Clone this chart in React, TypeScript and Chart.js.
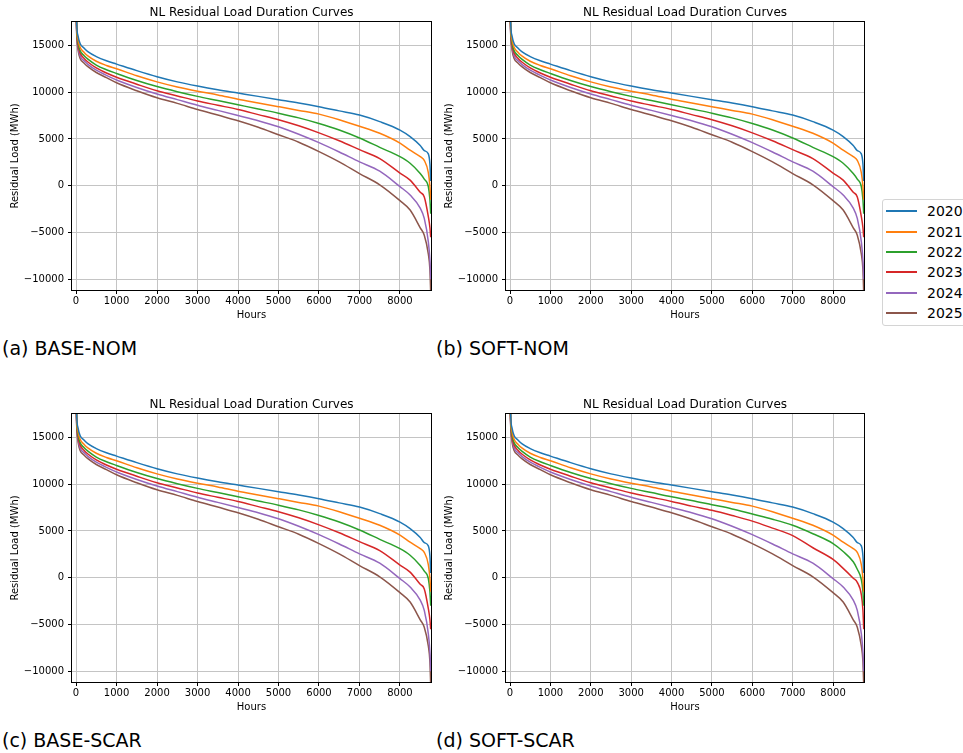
import React, { useEffect, useRef } from 'react';
import { Chart, registerables } from 'chart.js';

Chart.register(...registerables);

// ---------- data ----------
const HOURS = [0, 20, 50, 100, 200, 300, 500, 750, 1000, 1500, 2000, 2500, 3000, 3500, 4000, 4500, 5000, 5500, 6000, 6500, 7000, 7500, 8000, 8250, 8500, 8600, 8700, 8740, 8759];

const YEARS = ['2020', '2021', '2022', '2023', '2024', '2025'];
const COLORS = ['#1f77b4', '#ff7f0e', '#2ca02c', '#d62728', '#9467bd', '#8c564b'];

const Y2020 = [20000, 17000, 16000, 15200, 14700, 14300, 13800, 13350, 13000, 12300, 11650, 11100, 10650, 10250, 9900, 9550, 9200, 8850, 8450, 8000, 7550, 6850, 5950, 5250, 4300, 3750, 3400, 2300, 500];
const Y2021 = [20000, 16700, 15600, 14800, 14250, 13850, 13300, 12850, 12500, 11750, 11100, 10550, 10100, 9700, 9250, 8850, 8450, 8050, 7650, 7050, 6350, 5600, 4550, 3800, 3100, 2700, 1400, -100, -1500];
const Y2022 = [19500, 16400, 15300, 14450, 13900, 13500, 12900, 12400, 12000, 11250, 10600, 10050, 9550, 9100, 8650, 8200, 7750, 7250, 6650, 5950, 5100, 4100, 3100, 2400, 1300, 700, -100, -1500, -3000];
const Y2023 = [19000, 16200, 15000, 14200, 13600, 13200, 12600, 12050, 11600, 10850, 10150, 9600, 9050, 8600, 8150, 7600, 7050, 6400, 5650, 4800, 3850, 2900, 1350, 600, -700, -1200, -3300, -4500, -5500];
const Y2024 = [19000, 16000, 14800, 13900, 13350, 12950, 12350, 11800, 11300, 10500, 9800, 9200, 8600, 8050, 7500, 6950, 6300, 5500, 4600, 3600, 2550, 1550, -100, -1000, -2400, -3500, -6000, -8000, -10000];
const Y2025 = [18500, 15800, 14500, 13600, 13100, 12700, 12100, 11550, 11000, 10150, 9400, 8800, 8150, 7550, 6950, 6250, 5450, 4650, 3650, 2550, 1300, 100, -1600, -2600, -4500, -5300, -7300, -9000, -11500];

// SOFT-SCAR differs for 2022 and 2023
const Y2022_SOFT_SCAR = [19500, 16400, 15300, 14450, 13900, 13500, 12900, 12400, 12000, 11250, 10600, 10050, 9550, 9100, 8650, 8250, 7800, 7350, 6800, 6250, 5600, 4700, 3650, 2800, 1700, 900, -200, -1500, -3000];
const Y2023_SOFT_SCAR = [19000, 16200, 15000, 14200, 13600, 13200, 12600, 12050, 11600, 10850, 10150, 9600, 9050, 8600, 8150, 7650, 7200, 6650, 6050, 5300, 4500, 3200, 1950, 1000, -50, -500, -1800, -3500, -5500];

const CAPTIONS = ['(a) BASE-NOM', '(b) SOFT-NOM', '(c) BASE-SCAR', '(d) SOFT-SCAR'];
const SERIES_BY_PANEL = [
  [Y2020, Y2021, Y2022, Y2023, Y2024, Y2025],
  [Y2020, Y2021, Y2022, Y2023, Y2024, Y2025],
  [Y2020, Y2021, Y2022, Y2023, Y2024, Y2025],
  [Y2020, Y2021, Y2022_SOFT_SCAR, Y2023_SOFT_SCAR, Y2024, Y2025],
];

const TITLE = 'NL Residual Load Duration Curves';
const X_LABEL = 'Hours';
const Y_LABEL = 'Residual Load (MWh)';
const X_TICKS = [0, 1000, 2000, 3000, 4000, 5000, 6000, 7000, 8000];
const Y_TICKS = [-10000, -5000, 0, 5000, 10000, 15000];
const X_MIN = -100;
const X_MAX = 8766;
const Y_MIN = -11150;
const Y_MAX = 17500;

const FONT = 'DejaVu Sans';

// ---------- layout ----------
const PANEL_POS = [
  { left: 0, top: 0, padRight: 9 },
  { left: 434, top: 0, padRight: 10 },
  { left: 0, top: 392, padRight: 9 },
  { left: 434, top: 392, padRight: 10 },
];
const CAPTION_POS = [
  { left: 2, top: 338.6 },
  { left: 436, top: 338.6 },
  { left: 2, top: 730.6 },
  { left: 436, top: 730.6 },
];

const framePlugin = {
  id: 'frameAndTitle',
  afterDraw(chart: any) {
    const { ctx, chartArea } = chart;
    const l = Math.round(chartArea.left);
    const t = Math.round(chartArea.top);
    const r = Math.round(chartArea.right);
    const b = Math.round(chartArea.bottom);
    ctx.save();
    ctx.strokeStyle = '#000';
    ctx.lineWidth = 1;
    ctx.strokeRect(l - 0.5, t - 0.5, r - l + 1, b - t + 1);
    ctx.fillStyle = '#000';
    ctx.font = `12px "${FONT}"`;
    ctx.textAlign = 'center';
    ctx.textBaseline = 'alphabetic';
    ctx.fillText(TITLE, (chartArea.left + chartArea.right) / 2, chartArea.top - 6);
    ctx.restore();
  },
};

const fmt = (v: number) => (v < 0 ? '\u2212' + Math.abs(v) : String(v));

function Panel({ series, pos }: { series: number[][]; pos: { left: number; top: number; padRight: number } }) {
  const ref = useRef<HTMLCanvasElement | null>(null);
  useEffect(() => {
    if (!ref.current) return;
    const chart = new Chart(ref.current, {
      type: 'line',
      data: {
        datasets: YEARS.map((yr, i) => ({
          label: yr,
          data: HOURS.map((h, k) => ({ x: h, y: series[i][k] })),
          borderColor: COLORS[i],
          backgroundColor: COLORS[i],
          borderWidth: 1.5,
          pointRadius: 0,
          fill: false,
          cubicInterpolationMode: 'monotone',
        })),
      },
      options: {
        animation: false,
        responsive: false,
        devicePixelRatio: 1,
        events: [],
        layout: { padding: { left: 0, top: 22, right: pos.padRight, bottom: 0 } },
        plugins: {
          legend: { display: false },
          tooltip: { enabled: false },
          title: { display: false },
        },
        scales: {
          x: {
            type: 'linear',
            min: X_MIN,
            max: X_MAX,
            afterBuildTicks: (s: any) => {
              s.ticks = X_TICKS.map((v) => ({ value: v }));
            },
            afterFit: (s: any) => {
              s.height = 36;
            },
            ticks: {
              autoSkip: false,
              maxRotation: 0,
              padding: 1,
              color: '#000',
              font: { family: FONT, size: 10 },
              callback: (v: any) => fmt(Number(v)),
            },
            grid: { color: '#c4c4c4', lineWidth: 1, tickLength: 4, tickColor: '#000', drawTicks: true },
            border: { display: false },
            title: {
              display: true,
              text: X_LABEL,
              color: '#000',
              font: { family: FONT, size: 10 },
              padding: { top: 0, bottom: 5 },
            },
          },
          y: {
            type: 'linear',
            min: Y_MIN,
            max: Y_MAX,
            afterBuildTicks: (s: any) => {
              s.ticks = Y_TICKS.map((v) => ({ value: v }));
            },
            afterFit: (s: any) => {
              s.width = 72;
            },
            ticks: {
              autoSkip: false,
              padding: 4,
              color: '#000',
              font: { family: FONT, size: 10 },
              callback: (v: any) => fmt(Number(v)),
            },
            grid: { color: '#c4c4c4', lineWidth: 1, tickLength: 4, tickColor: '#000', drawTicks: true },
            border: { display: false },
            title: {
              display: true,
              text: Y_LABEL,
              color: '#000',
              font: { family: FONT, size: 10 },
              padding: { top: 9, bottom: 0 },
            },
          },
        },
      } as any,
      plugins: [framePlugin],
    });
    return () => chart.destroy();
  }, [series, pos]);
  return (
    <canvas
      ref={ref}
      width={440}
      height={326}
      style={{ position: 'absolute', left: pos.left, top: pos.top, width: 440, height: 326 }}
    />
  );
}

function Legend() {
  return (
    <div
      style={{
        position: 'absolute',
        left: 882,
        top: 199,
        width: 110,
        height: 127,
        border: '1px solid #d4d4d4',
        borderRadius: 3,
        background: '#fff',
        boxSizing: 'border-box',
      }}
    >
      {YEARS.map((yr, i) => (
        <div
          key={yr}
          style={{ position: 'absolute', left: 0, top: 1.4 + i * 20.33, height: 20, width: 110 }}
        >
          <div
            style={{
              position: 'absolute',
              left: 3,
              top: 9,
              width: 31,
              height: 2,
              background: COLORS[i],
            }}
          />
          <div
            style={{
              position: 'absolute',
              left: 44,
              top: 0,
              lineHeight: '20px',
              fontSize: 14,
              fontFamily: FONT,
              color: '#000',
              whiteSpace: 'nowrap',
            }}
          >
            {yr}
          </div>
        </div>
      ))}
    </div>
  );
}

export default function App() {
  return (
    <div
      style={{
        position: 'absolute',
        left: 0,
        top: 0,
        width: 963,
        height: 753,
        overflow: 'hidden',
        background: '#fff',
      }}
    >
      {SERIES_BY_PANEL.map((s, i) => (
        <Panel key={i} series={s} pos={PANEL_POS[i]} />
      ))}
      <Legend />
      {CAPTIONS.map((c, i) => (
        <div
          key={c}
          style={{
            position: 'absolute',
            left: CAPTION_POS[i].left,
            top: CAPTION_POS[i].top,
            fontFamily: FONT,
            fontSize: 19,
            lineHeight: '19px',
            color: '#000',
            whiteSpace: 'nowrap',
          }}
        >
          {c}
        </div>
      ))}
    </div>
  );
}
